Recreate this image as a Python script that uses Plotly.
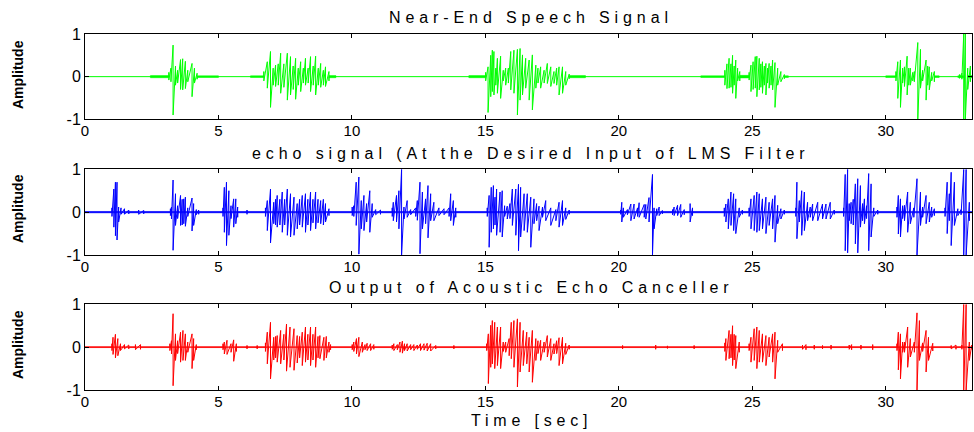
import plotly.graph_objects as go

# ---------------- data ----------------
T_END = 33.23                      # signal duration shown (sec)
X_TICKS = [0, 5, 10, 15, 20, 25, 30]
X_TICK_TEXT = ["0", "5", "10", "15", "20", "25", "30"]
Y_TICKS = [-1, 0, 1]
Y_TICK_TEXT = ["-1", "0", "1"]
PANEL_TITLES = ["Near-End Speech Signal",
                "echo signal (At the Desired Input of LMS Filter",
                "Output of Acoustic Echo Canceller"]
X_TITLE = "Time [sec]"
Y_TITLE = "Amplitude"
COLORS = ["#00ff00", "#0000ff", "#ff0000"]

# Near-end speech: visible spikes (time, positive peak, negative peak)
near_t = [3.14, 3.22, 3.30, 3.39, 3.47, 3.58, 3.66, 3.76, 3.85, 4.01, 4.10, 4.20,
          6.70, 6.83, 6.95, 7.05, 7.14, 7.24, 7.33, 7.45, 7.58, 7.70, 7.80, 7.89, 7.99,
          8.08, 8.18, 8.26, 8.36, 8.45, 8.55, 8.64, 8.74, 8.83, 8.93, 9.01, 9.14,
          15.01, 15.10, 15.20, 15.26, 15.32, 15.39, 15.45, 15.57, 15.67, 15.76, 15.86,
          15.95, 16.07, 16.20, 16.30, 16.39, 16.51, 16.64, 16.76, 16.89, 16.97, 17.07,
          17.20, 17.32, 17.45, 17.57, 17.67, 17.76, 17.89, 18.01, 18.14,
          23.97, 24.05, 24.13, 24.20, 24.26, 24.32, 24.38, 24.45, 24.53,
          24.88, 24.95, 25.03, 25.11, 25.17, 25.26, 25.32, 25.38, 25.45, 25.51, 25.57,
          25.63, 25.70, 25.76, 25.85, 25.95, 26.07, 26.20,
          30.38, 30.45, 30.55, 30.63, 30.70, 30.80, 30.86, 30.92, 31.01, 31.07, 31.20,
          31.30, 31.38, 31.51, 31.57, 31.63, 31.72, 31.82,
          32.76, 32.85, 32.92, 32.98, 33.07, 33.17]
near_hi = [.10, .20, .74, .25, .15, .40, .42, .36, .15, .31, .20, .08,
           .12, .35, .59, .20, .27, .30, .55, .30, .55, .47, .25, .43, .20,
           .35, .20, .43, .20, .47, .25, .48, .20, .31, .15, .23, .12,
           .10, .23, .50, .62, .59, .20, .43, .48, .15, .20, .20,
           .59, .62, .64, .66, .51, .43, .39, .51, .27, .20, .23,
           .15, .31, .23, .12, .20, .23, .23, .12, .06,
           .15, .30, .43, .30, .50, .25, .39, .20, .12,
           .10, .27, .35, .47, .48, .43, .30, .35, .25, .31, .20,
           .31, .25, .39, .33, .20, .12, .05,
           .12, .35, .39, .20, .23, .48, .20, .20, .10, .12, .80,
           .64, .15, .39, .25, .23, .10, .12,
           .05, .08, 1.0, 1.0, .20, .25]
near_lo = [-.08, -.12, -.90, -.20, -.15, -.30, -.31, -.28, -.12, -.47, -.15, -.06,
           -.10, -.27, -.72, -.20, -.23, -.20, -.39, -.25, -.55, -.43, -.30, -.53, -.20,
           -.35, -.15, -.20, -.15, -.35, -.20, -.43, -.20, -.25, -.20, -.23, -.10,
           -.10, -.84, -.47, -.35, -.43, -.20, -.39, -.51, -.10, -.20, -.15,
           -.31, -.39, -.90, -.55, -.43, -.27, -.55, -.78, -.27, -.15, -.27,
           -.15, -.16, -.23, -.16, -.20, -.43, -.39, -.20, -.05,
           -.20, -.28, -.27, -.25, -.39, -.20, -.51, -.10, -.10,
           -.08, -.35, -.30, -.27, -.47, -.31, -.25, -.39, -.20, -.43, -.15,
           -.27, -.20, -.31, -.72, -.20, -.12, -.05,
           -.10, -.51, -.72, -.15, -.23, -.43, -.20, -.20, -.10, -.12, -1.0,
           -.27, -.10, -.55, -.20, -.31, -.10, -.12,
           -.04, -.06, -1.0, -1.0, -.30, -.12]
# low-level noise stretches: start, end, half-height
near_noise_t0 = [2.45, 4.20, 6.20, 9.14, 14.38, 18.14, 23.07, 24.53, 26.20, 30.00, 31.82, 32.70, 33.07]
near_noise_t1 = [3.14, 5.00, 6.70, 9.40, 15.01, 18.75, 23.97, 24.88, 26.35, 30.38, 32.00, 32.92, 33.23]
near_noise_a = [.025, .02, .02, .025, .025, .025, .02, .03, .02, .02, .02, .02, .025]

# Echo signal at the LMS desired input
echo_t = [1.01, 1.08, 1.14, 1.20, 1.26, 1.35, 1.48, 1.64, 2.01, 2.20,
          3.20, 3.24, 3.30, 3.39, 3.47, 3.58, 3.64, 3.70, 3.76, 3.85, 4.01, 4.07, 4.17, 4.26,
          5.17, 5.22, 5.30, 5.39, 5.47, 5.57, 5.65, 5.72, 6.07,
          6.76, 6.83, 6.95, 7.07, 7.14, 7.20, 7.30, 7.39, 7.48, 7.58, 7.70, 7.83, 7.95,
          8.04, 8.14, 8.26, 8.35, 8.45, 8.54, 8.64, 8.73, 8.83, 8.93, 9.01, 9.14,
          10.01, 10.07, 10.16, 10.26, 10.35, 10.45, 10.55, 10.67, 10.76, 10.89, 11.07,
          11.51, 11.55, 11.67, 11.76, 11.86, 11.95, 12.07, 12.20,
          12.39, 12.45, 12.55, 12.64, 12.76, 12.85, 12.95, 13.07, 13.26, 13.45,
          13.64, 13.70, 13.80, 13.89,
          15.07, 15.14, 15.22, 15.30, 15.36, 15.42, 15.55, 15.63, 15.72, 15.82, 15.92,
          16.01, 16.14, 16.24, 16.32, 16.45, 16.57, 16.70, 16.82, 16.92, 17.01, 17.14,
          17.26, 17.45, 17.64, 17.76, 17.89, 18.01, 18.14,
          20.07, 20.11, 20.17, 20.32, 20.45, 20.57, 20.70, 20.76, 20.95,
          21.01, 21.13, 21.26, 21.32, 21.42, 21.51, 21.63,
          22.01, 22.07, 22.20, 22.32, 22.45, 22.67, 22.76,
          23.95, 24.01, 24.10, 24.20, 24.30, 24.38, 24.51, 24.63,
          24.88, 24.95, 25.07, 25.17, 25.26, 25.38, 25.51, 25.63, 25.76, 25.85, 25.95,
          26.07, 26.20,
          26.63, 26.67, 26.76, 26.85, 26.95, 27.07, 27.17, 27.26, 27.45, 27.63, 27.76,
          27.92, 28.07,
          28.42, 28.48, 28.57, 28.63, 28.70, 28.78, 28.86, 28.95, 29.05, 29.13, 29.20,
          29.28, 29.36, 29.45, 29.55, 29.70,
          30.42, 30.47, 30.55, 30.63, 30.70, 30.82, 30.92, 31.05, 31.17, 31.30, 31.38,
          31.51, 31.63, 31.72, 31.82,
          32.22, 32.30, 32.38, 32.45, 32.57, 32.70, 32.82, 32.92, 33.01, 33.13]
echo_hi = [.10, .54, .70, .70, .12, .10, .08, .05, .05, .04,
           .08, .12, .75, .43, .15, .39, .30, .31, .35, .10, .33, .20, .06, .05,
           .10, .58, .70, .50, .15, .31, .31, .12, .05,
           .10, .27, .54, .23, .30, .39, .30, .47, .30, .54, .43, .35, .20,
           .30, .39, .43, .30, .47, .30, .47, .30, .27, .30, .20, .08,
           .12, .15, .70, .82, .27, .39, .20, .50, .20, .06, .05,
           .10, .23, .39, .50, 1.0, .12, .27, .06,
           .10, .27, .70, .47, .31, .62, .43, .23, .10, .08,
           .10, .43, .27, .10,
           .10, .39, .58, .62, .35, .54, .47, .50, .15, .14, .20,
           .54, .54, .65, .58, .43, .43, .35, .31, .20, .14, .12,
           .27, .10, .06, .23, .27, .10, .05,
           .05, .23, .10, .06, .19, .19, .10, .22, .18,
           .18, .34, .88, .10, .08, .12, .04,
           .06, .12, .16, .18, .06, .20, .10,
           .10, .19, .31, .47, .43, .31, .10, .05,
           .10, .31, .39, .47, .43, .31, .35, .23, .31, .39, .16,
           .08, .05,
           .10, .70, .27, .50, .47, .23, .12, .19, .23, .19, .19,
           .23, .05,
           .10, .88, 1.0, .20, .23, .30, .66, .78, .62, .20, .31,
           .15, .90, .66, .10, .05,
           .12, .39, .31, .15, .16, .47, .23, .10, .78, .47, .12,
           .39, .23, .12, .08,
           .10, .70, .43, .93, .70, .08, .06, 1.0, 1.0, .23]
echo_lo = [-.10, -.35, -.55, -.65, -.23, -.05, -.05, -.04, -.05, -.04,
           -.08, -.16, -.89, -.31, -.15, -.31, -.30, -.27, -.33, -.10, -.44, -.31, -.06, -.05,
           -.10, -.47, -.78, -.54, -.15, -.35, -.27, -.12, -.05,
           -.10, -.43, -.72, -.27, -.30, -.35, -.30, -.47, -.30, -.54, -.58, -.54, -.39,
           -.30, -.35, -.47, -.30, -.43, -.25, -.39, -.25, -.27, -.30, -.23, -.08,
           -.08, -.10, -.31, -.98, -.39, -.43, -.23, -.47, -.12, -.06, -.05,
           -.10, -.20, -.23, -.39, -1.0, -.16, -.12, -.06,
           -.10, -.19, -.97, -.39, -.27, -.60, -.20, -.20, -.08, -.06,
           -.10, -.20, -.31, -.12,
           -.10, -.82, -.47, -.39, -.30, -.54, -.47, -.58, -.10, -.16, -.15,
           -.31, -.54, -.90, -.58, -.43, -.47, -.82, -.27, -.20, -.43, -.12,
           -.20, -.31, -.20, -.35, -.31, -.17, -.05,
           -.05, -.23, -.12, -.06, -.20, -.16, -.10, -.12, -.12,
           -.16, -.23, -1.0, -.39, -.08, -.08, -.04,
           -.06, -.08, -.08, -.12, -.06, -.23, -.08,
           -.10, -.23, -.39, -.31, -.43, -.50, -.12, -.05,
           -.10, -.39, -.43, -.47, -.43, -.39, -.50, -.31, -.39, -.70, -.27,
           -.16, -.05,
           -.10, -.62, -.23, -.54, -.43, -.20, -.12, -.20, -.20, -.16, -.16,
           -.16, -.05,
           -.10, -.90, -.95, -.20, -.27, -.30, -.74, -.95, -.35, -.20, -.27,
           -.15, -.90, -.58, -.10, -.05,
           -.12, -.51, -.58, -.15, -.20, -.47, -.27, -.12, -1.0, -.31, -.12,
           -.27, -.23, -.12, -.08,
           -.10, -.50, -.20, -.78, -.31, -.08, -.06, -1.0, -1.0, -.20]
echo_noise_t0 = [0.0]
echo_noise_t1 = [T_END]
echo_noise_a = [.016]

# Output of the acoustic echo canceller
out_t = [1.01, 1.05, 1.14, 1.23, 1.33, 1.48, 1.64, 1.89, 2.08,
         3.18, 3.24, 3.30, 3.39, 3.47, 3.58, 3.67, 3.76, 3.85, 4.01, 4.07, 4.17,
         5.17, 5.22, 5.32, 5.47, 5.57, 5.67, 6.07, 6.45,
         6.76, 6.83, 6.95, 7.07, 7.14, 7.20, 7.33, 7.45, 7.55, 7.68, 7.83, 7.95,
         8.04, 8.14, 8.26, 8.35, 8.45, 8.54, 8.64, 8.73, 8.80, 8.95, 9.04, 9.14, 9.20,
         10.01, 10.07, 10.17, 10.26, 10.39, 10.49, 10.57, 10.70, 10.82,
         11.51, 11.57, 11.70, 11.80, 11.89, 11.97, 12.07, 12.20, 12.32, 12.45, 12.57,
         12.70, 12.82, 12.95, 13.14, 13.82,
         15.05, 15.11, 15.20, 15.26, 15.35, 15.45, 15.57, 15.67, 15.76, 15.89, 15.97,
         16.07, 16.20, 16.30, 16.42, 16.55, 16.64, 16.76, 16.89, 16.97, 17.07, 17.20,
         17.32, 17.45, 17.57, 17.67, 17.76, 17.89, 18.01, 18.14,
         20.14, 21.38, 21.82, 22.82,
         23.97, 24.01, 24.13, 24.20, 24.26, 24.32, 24.38, 24.51,
         24.88, 24.95, 25.07, 25.17, 25.26, 25.38, 25.51, 25.63, 25.76, 25.85, 25.95, 26.13,
         26.88, 27.01, 27.32, 27.63, 27.95, 28.63, 28.72, 29.07, 29.51,
         30.42, 30.47, 30.55, 30.63, 30.70, 30.82, 30.92, 31.07, 31.17, 31.26, 31.38,
         31.51, 31.60, 31.76,
         32.45, 32.63, 32.85, 32.92, 33.01, 33.13, 33.22]
out_hi = [.08, .23, .30, .20, .08, .06, .05, .06, .06,
          .08, .15, .78, .31, .15, .35, .39, .31, .12, .31, .20, .06,
          .08, .12, .16, .08, .17, .08, .04, .04,
          .10, .35, .58, .23, .25, .27, .39, .30, .54, .47, .43, .27,
          .25, .35, .47, .30, .47, .30, .47, .25, .27, .23, .25, .12, .06,
          .06, .12, .20, .23, .12, .06, .09, .08, .06,
          .05, .08, .06, .12, .14, .08, .08, .06, .06, .05, .08,
          .08, .09, .08, .04, .04,
          .08, .31, .51, .62, .58, .47, .47, .12, .12, .20, .58,
          .62, .66, .58, .39, .35, .23, .39, .20, .15, .16, .12,
          .27, .20, .08, .15, .22, .23, .09, .05,
          .04, .05, .03, .04,
          .10, .20, .39, .30, .50, .30, .27, .12,
          .08, .23, .43, .47, .39, .31, .27, .23, .31, .35, .16, .08,
          .05, .06, .05, .04, .05, .05, .06, .05, .06,
          .08, .35, .31, .12, .12, .47, .20, .12, .80, .62, .10,
          .39, .23, .09,
          .04, .05, .05, 1.0, 1.0, .12, .05]
out_lo = [-.08, -.17, -.25, -.20, -.08, -.04, -.04, -.06, -.05,
          -.08, -.16, -.90, -.31, -.15, -.35, -.31, -.31, -.12, -.50, -.31, -.06,
          -.06, -.16, -.17, -.12, -.33, -.10, -.04, -.04,
          -.10, -.39, -.74, -.30, -.25, -.35, -.39, -.30, -.56, -.47, -.54, -.37,
          -.25, -.43, -.35, -.30, -.43, -.30, -.47, -.25, -.27, -.31, -.25, -.12, -.06,
          -.06, -.10, -.16, -.22, -.12, -.06, -.08, -.08, -.05,
          -.05, -.08, -.06, -.12, -.14, -.08, -.09, -.06, -.08, -.05, -.08,
          -.07, -.09, -.09, -.04, -.04,
          -.08, -.85, -.47, -.39, -.50, -.43, -.50, -.10, -.12, -.20, -.27,
          -.47, -.93, -.58, -.43, -.39, -.58, -.82, -.31, -.15, -.31, -.12,
          -.23, -.31, -.16, -.15, -.43, -.39, -.17, -.05,
          -.04, -.05, -.03, -.04,
          -.10, -.31, -.27, -.25, -.43, -.30, -.50, -.12,
          -.08, -.35, -.31, -.50, -.35, -.35, -.43, -.23, -.35, -.74, -.12, -.08,
          -.05, -.06, -.05, -.04, -.05, -.05, -.06, -.05, -.06,
          -.08, -.53, -.74, -.12, -.12, -.47, -.23, -.12, -1.0, -.31, -.10,
          -.58, -.31, -.09,
          -.04, -.05, -.05, -1.0, -1.0, -.31, -.05]
out_noise_t0 = [0.0]
out_noise_t1 = [T_END]
out_noise_a = [.01]

SIGNALS = [
    (near_t, near_hi, near_lo, near_noise_t0, near_noise_t1, near_noise_a),
    (echo_t, echo_hi, echo_lo, echo_noise_t0, echo_noise_t1, echo_noise_a),
    (out_t, out_hi, out_lo, out_noise_t0, out_noise_t1, out_noise_a),
]
BURST_GAP = 0.2   # spikes closer than this belong to one voiced stretch

# ---------------- figure ----------------
W, H = 974, 432
FONT = "Liberation Sans, Arial, Helvetica, sans-serif"


def px_x(p):
    return p / W


def px_y(p):
    return 1 - p / H


X_DOMAIN = [px_x(85), px_x(972)]
Y_DOMAINS = [[px_y(119.3), px_y(34)], [px_y(255), px_y(169.3)], [px_y(390), px_y(304.3)]]


def spaced(text, ls):
    return '<span style="letter-spacing:%.1fpx">%s</span>' % (ls, text)


def waveform_path(t, hi, lo):
    xs, ys = [0.0], [0.0]
    for k, (a, h, l) in enumerate(zip(t, hi, lo)):
        if k == 0 or a - t[k - 1] > BURST_GAP:
            xs.append(a)
            ys.append(0)
        xs += [a, a]
        ys += [h, l]
        if k == len(t) - 1 or t[k + 1] - a > BURST_GAP:
            xs.append(a)
            ys.append(0)
    xs.append(T_END)
    ys.append(0)
    return xs, ys


fig = go.Figure()

for i, (t, hi, lo, n0, n1, na) in enumerate(SIGNALS):
    xa = "x" if i == 0 else "x%d" % (i + 1)
    ya = "y" if i == 0 else "y%d" % (i + 1)
    col = COLORS[i]
    bx, by = [], []
    for a0, a1, a in zip(n0, n1, na):
        bx += [a0, a1, a1, a0, a0, None]
        by += [a, a, -a, -a, a, None]
    fig.add_trace(go.Scatter(x=bx, y=by, mode="lines", fill="toself", fillcolor=col,
                             line=dict(color=col, width=0.5), xaxis=xa, yaxis=ya,
                             hoverinfo="skip", showlegend=False))
    xs, ys = waveform_path(t, hi, lo)
    fig.add_trace(go.Scatter(x=xs, y=ys, mode="lines", line=dict(color=col, width=1),
                             xaxis=xa, yaxis=ya, hoverinfo="skip", showlegend=False))

axis_common = dict(showline=True, linecolor="black", linewidth=1, mirror="ticks",
                   ticks="inside", ticklen=4, tickcolor="black", showgrid=False,
                   zeroline=False, automargin=False,
                   tickfont=dict(family=FONT, size=16, color="black"))

layout = dict(width=W, height=H, margin=dict(l=0, r=0, t=0, b=0, pad=0, autoexpand=False),
              paper_bgcolor="white", plot_bgcolor="white", showlegend=False)
for i in range(3):
    xk = "xaxis" if i == 0 else "xaxis%d" % (i + 1)
    yk = "yaxis" if i == 0 else "yaxis%d" % (i + 1)
    ya = "y" if i == 0 else "y%d" % (i + 1)
    xa = "x" if i == 0 else "x%d" % (i + 1)
    layout[xk] = dict(axis_common, domain=X_DOMAIN, range=[0, T_END], anchor=ya,
                      tickmode="array", tickvals=X_TICKS, ticktext=X_TICK_TEXT,
                      ticklabelstandoff=-2,
                      tickfont=dict(family=FONT, size=15, color="black"))
    layout[yk] = dict(axis_common, domain=Y_DOMAINS[i], range=[-1, 1], anchor=xa,
                      tickmode="array", tickvals=Y_TICKS, ticktext=Y_TICK_TEXT)

fig.update_layout(**layout)

title_y = [17.7, 153.5, 287.5]
amp_y = [75, 209, 345]
for i in range(3):
    fig.add_annotation(xref="paper", yref="paper", x=px_x(531), y=px_y(title_y[i]),
                       xanchor="center", yanchor="middle", showarrow=False,
                       text=spaced(PANEL_TITLES[i], 4.9),
                       font=dict(family=FONT, size=16, color="black"))
    fig.add_annotation(xref="paper", yref="paper", x=px_x(18), y=px_y(amp_y[i]),
                       xanchor="center", yanchor="middle", showarrow=False, textangle=-90,
                       text="<b>%s</b>" % Y_TITLE,
                       font=dict(family=FONT, size=14, color="black"))
fig.add_annotation(xref="paper", yref="paper", x=px_x(531), y=px_y(420.5),
                   xanchor="center", yanchor="middle", showarrow=False,
                   text=spaced(X_TITLE, 4.8),
                   font=dict(family=FONT, size=16, color="black"))

fig.write_html("out.html")
